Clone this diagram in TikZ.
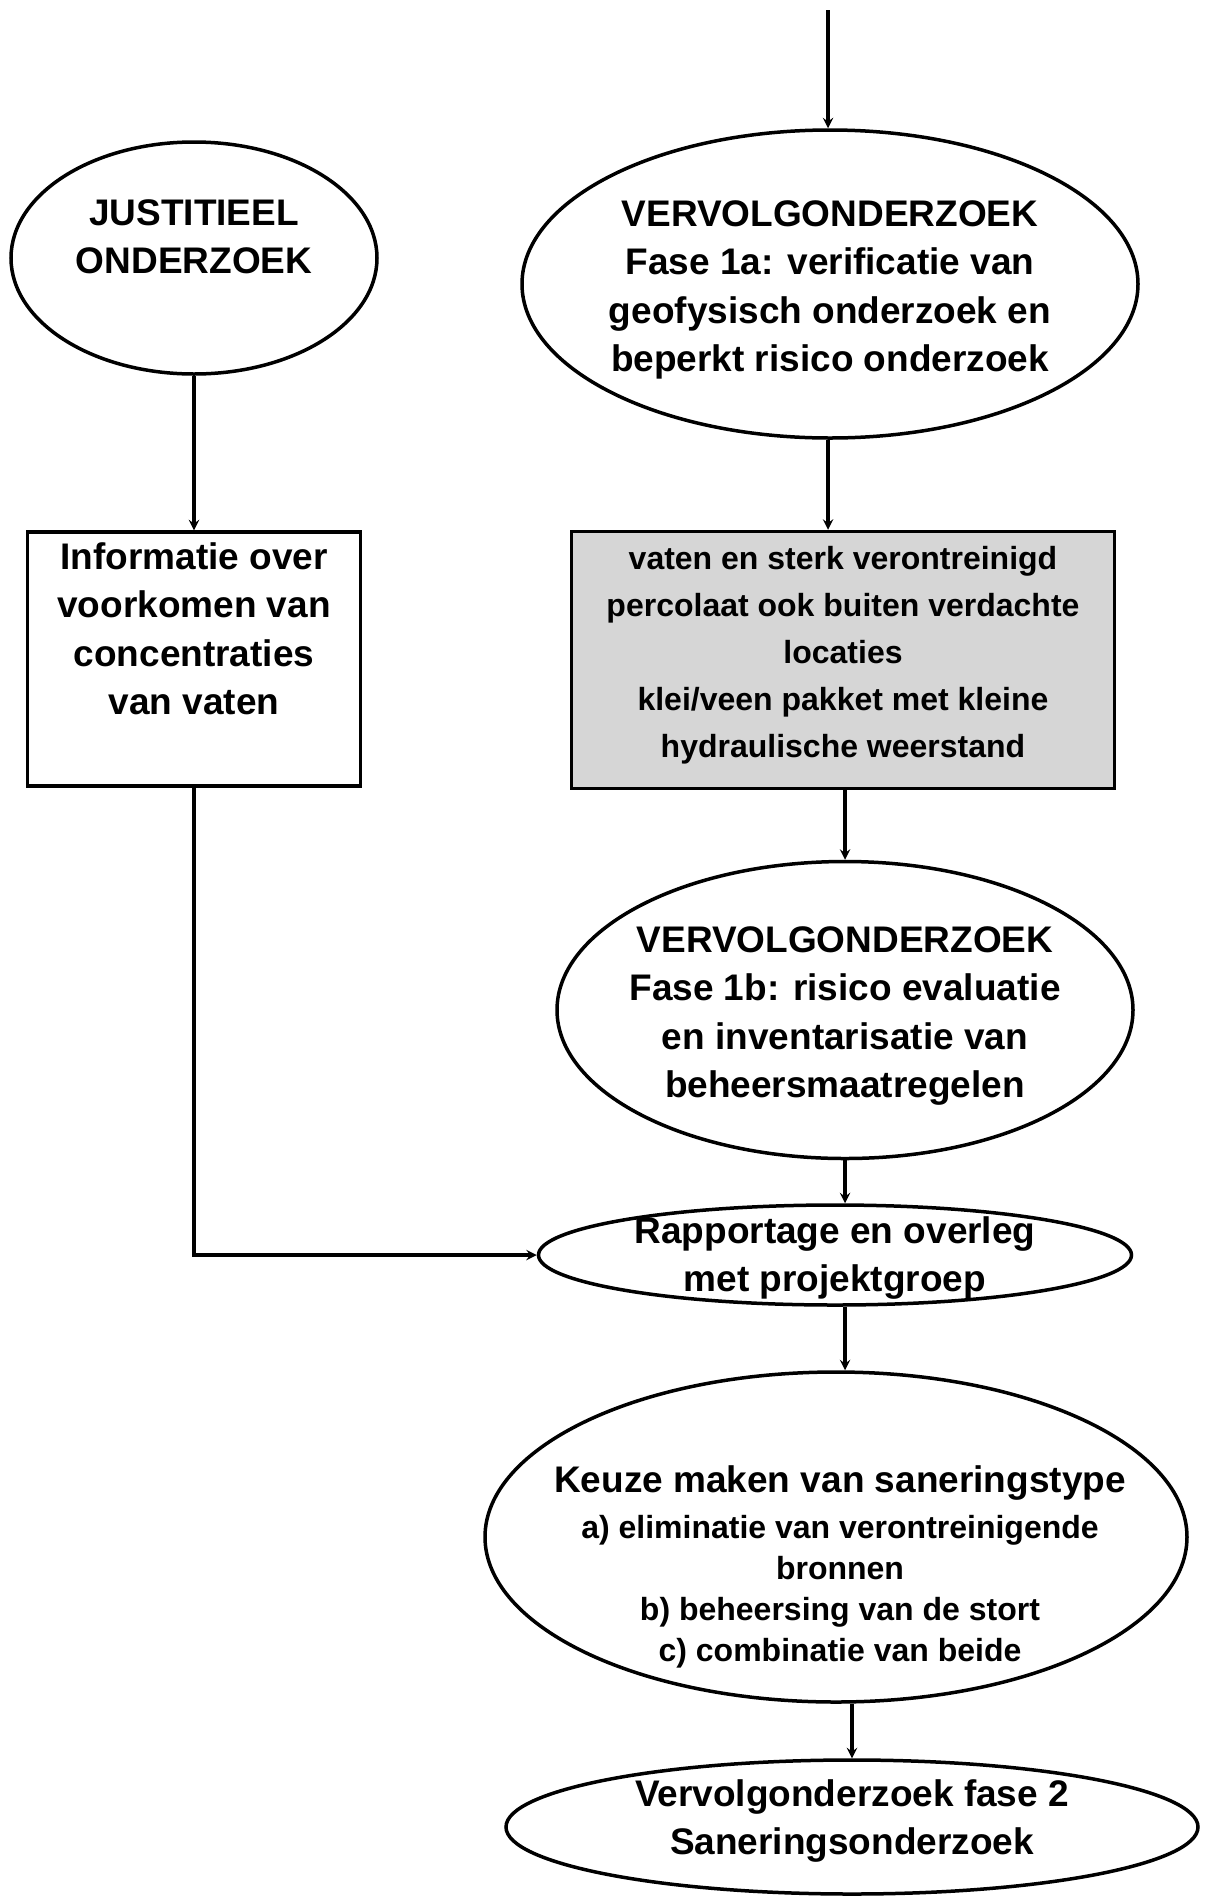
\documentclass[tikz,border=0pt]{standalone}
\usepackage{fontspec}
\setmainfont{Liberation Sans}
\usetikzlibrary{shapes.geometric, arrows}
\tikzstyle{oval} = [ellipse, draw=black, line width=3.5pt, inner sep=0pt]
\tikzstyle{infobox} = [rectangle, draw=black, line width=3.5pt, inner sep=0pt]
\tikzstyle{shadedbox} = [rectangle, draw=black, line width=3.5pt, inner sep=0pt, fill=black!16]
\tikzstyle{txt} = [align=center, inner sep=0pt, font=\bfseries\fontsize{37}{48.5}\selectfont]
\tikzstyle{smalltxt} = [align=center, inner sep=0pt, font=\bfseries\fontsize{32}{47}\selectfont]
\tikzstyle{arrow} = [line width=3.5pt,->,>=stealth]

\begin{document}
\begin{tikzpicture}[x=1pt, y=-1pt]
	\useasboundingbox (0,0) rectangle (1212,1896);
	% shapes
	\node (just) [oval, minimum width=366, minimum height=232] at (194,258) {};
	\node (ver1a) [oval, minimum width=616, minimum height=308] at (830,284) {};
	\node (info) [infobox, minimum width=333, minimum height=254] at (194,659) {};
	\node (verontr) [shadedbox, minimum width=543, minimum height=257] at (843,660) {};
	\node (ver1b) [oval, minimum width=576, minimum height=297] at (845,1010) {};
	\node (rapp) [oval, minimum width=593, minimum height=100] at (835,1255) {};
	\node (keuze) [oval, minimum width=702, minimum height=330] at (836,1537) {};
	\node (fase2) [oval, minimum width=692, minimum height=134] at (852,1827) {};
	% texts
	\node (justtxt) [txt, yshift=21] at (just) {JUSTITIEEL\\ONDERZOEK};
	\node (ver1atxt) [txt, yshift=-6] at (ver1a) {VERVOLGONDERZOEK\\Fase 1a: verificatie van\\geofysisch onderzoek en\\beperkt risico onderzoek};
	\node (infotxt) [txt, yshift=30] at (info) {Informatie over\\voorkomen van\\concentraties\\van vaten};
	\node (verontrtxt) [smalltxt, yshift=5] at (verontr) {vaten en sterk verontreinigd\\percolaat ook buiten verdachte\\locaties\\klei/veen pakket met kleine\\hydraulische weerstand};
	\node (ver1btxt) [txt, yshift=-6] at (ver1b) {VERVOLGONDERZOEK\\Fase 1b: risico evaluatie\\en inventarisatie van\\beheersmaatregelen};
	\node (rapptxt) [txt, yshift=-3] at (rapp) {Rapportage en overleg\\met projektgroep};
	\node (keuzetxt) [smalltxt, font=\bfseries\fontsize{32}{41}\selectfont, xshift=4, yshift=-30] at (keuze) {{\fontsize{37}{46}\selectfont Keuze maken van saneringstype}\\[5pt]a) eliminatie van verontreinigende\\bronnen\\b) beheersing van de stort\\c) combinatie van beide};
	\node (fase2txt) [txt, yshift=6] at (fase2) {Vervolgonderzoek fase 2\\Saneringsonderzoek};
	% connectors
	\coordinate (start) at (828,10);
	\draw [arrow] (start) -- (start |- ver1a.north);
	\draw [arrow] (just) -- (info);
	\draw [arrow] (ver1a.south -| start) -- (start |- verontr.north);
	\draw [arrow] (verontr.south -| ver1b.north) -- (ver1b.north);
	\draw [arrow] (ver1b.south) -- (ver1b.south |- rapp.north);
	\draw [arrow] (info.south) |- (rapp.west);
	\draw [arrow] (rapp.south -| ver1b.south) -- (ver1b.south |- keuze.north);
	\draw [arrow] (keuze.south -| fase2.north) -- (fase2.north);
\end{tikzpicture}
\end{document}
